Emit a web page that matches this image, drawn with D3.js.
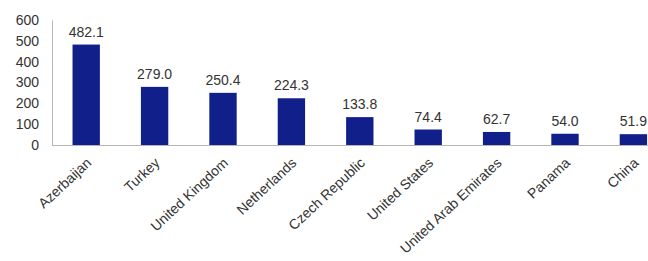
<!DOCTYPE html>
<html>
<head>
<meta charset="utf-8">
<script src="https://cdn.jsdelivr.net/npm/d3@7"></script>
<style>
  body { margin: 0; background: #fff; }
  svg text { font-family: "Liberation Sans", Arial, sans-serif; fill: #333; }
</style>
</head>
<body>
<svg width="648" height="261"></svg>
<script>
var countries = ["Azerbaijan", "Turkey", "United Kingdom", "Netherlands", "Czech Republic",
    "United States", "United Arab Emirates", "Panama", "China"];
var values = [482.1, 279.0, 250.4, 224.3, 133.8, 74.4, 62.7, 54.0, 51.9];
var yTicks = [0, 100, 200, 300, 400, 500, 600];

var svg = d3.select("svg");

var left = 52,
    baseY = 145,
    topY = 20;

var x = d3.scaleBand()
    .domain(countries)
    .range([left, left + 9 * 68.4])
    .paddingInner(0.6)
    .paddingOuter(0.3);

var y = d3.scaleLinear()
    .domain([0, 600])
    .range([baseY, topY]);

// y axis
var yAxis = svg.append("g")
    .attr("transform", "translate(" + left + ",0)")
    .call(d3.axisLeft(y).tickValues(yTicks).tickSize(0).tickPadding(13));
yAxis.select(".domain").attr("stroke", "#b5b5b5");
yAxis.selectAll("text").style("font-size", "14px").attr("fill", "#333");

// bars
svg.selectAll("rect.bar")
    .data(values)
    .enter().append("rect")
    .attr("class", "bar")
    .attr("x", function (d, i) { return x(countries[i]); })
    .attr("y", function (d) { return y(d); })
    .attr("width", x.bandwidth())
    .attr("height", function (d) { return baseY - y(d); })
    .attr("fill", "#111f8a");

// baseline
svg.append("line")
    .attr("x1", left).attr("x2", 648)
    .attr("y1", baseY + 0.5).attr("y2", baseY + 0.5)
    .attr("stroke", "#b5b5b5");

// value labels
svg.selectAll("text.val")
    .data(values)
    .enter().append("text")
    .attr("class", "val")
    .attr("x", function (d, i) { return x(countries[i]) + x.bandwidth() / 2; })
    .attr("y", function (d) { return y(d) - 8; })
    .attr("text-anchor", "middle")
    .style("font-size", "14px")
    .text(function (d) { return d.toFixed(1); });

// category labels
svg.selectAll("text.cat")
    .data(countries)
    .enter().append("text")
    .attr("class", "cat")
    .attr("text-anchor", "end")
    .style("font-size", "14px")
    .attr("transform", function (d) {
        return "translate(" + (x(d) + x.bandwidth() / 2 + 6) + "," + (baseY + 19) + ") rotate(-43)";
    })
    .text(function (d) { return d; });
</script>
</body>
</html>
